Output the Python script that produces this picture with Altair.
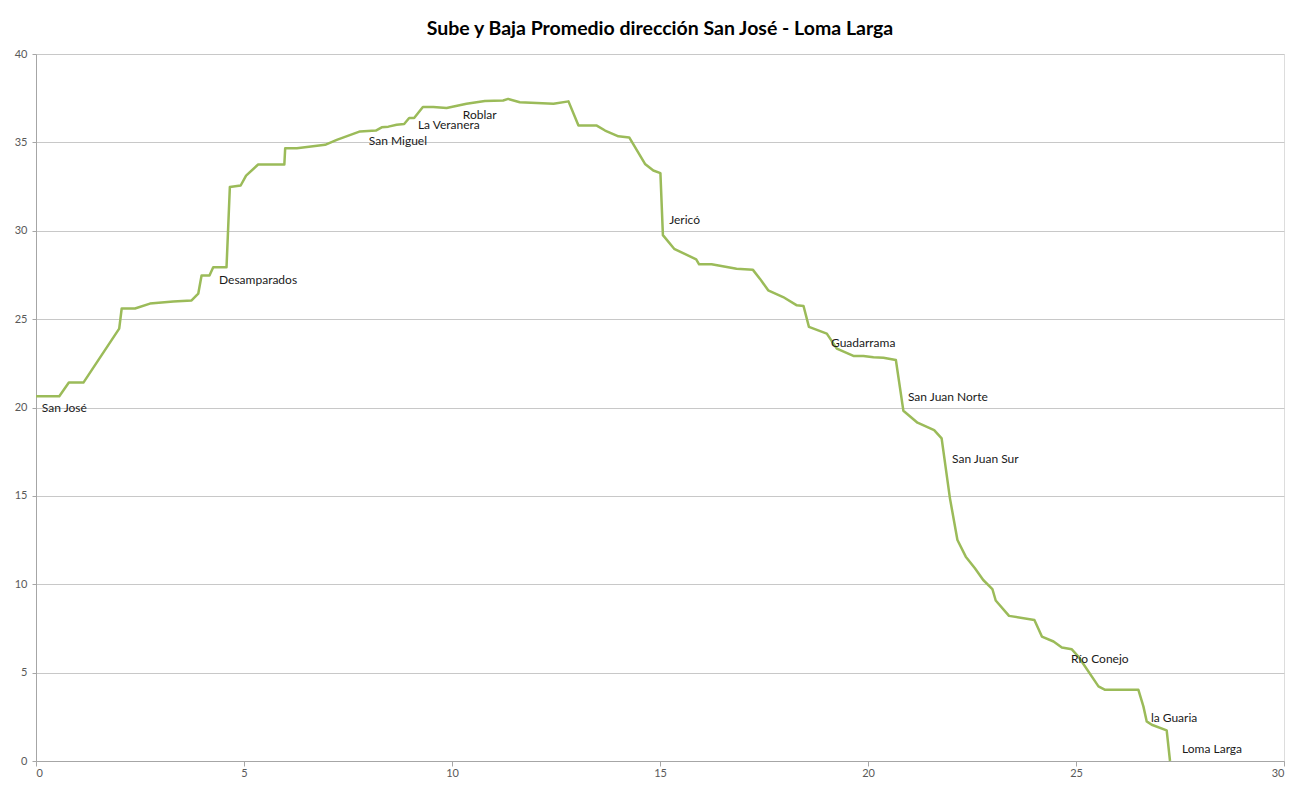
import altair as alt
import pandas as pd

# distance (km) and average elevation profile values
dist = [0.0, 0.56, 0.79, 1.14, 2.0, 2.06, 2.38, 2.74, 3.30, 3.74, 3.90, 3.98, 4.17, 4.26, 4.58,
        4.66, 4.92, 5.05, 5.34, 5.97, 5.99, 6.27, 6.95, 7.23, 7.79, 8.17, 8.31, 8.47, 8.67,
        8.85, 8.97, 9.09, 9.30, 9.55, 9.87, 10.35, 10.79, 11.23, 11.35, 11.63, 12.44, 12.80,
        13.04, 13.48, 13.68, 14.0, 14.26, 14.64, 14.84, 15.01, 15.07, 15.34, 15.87, 15.94,
        16.24, 16.84, 17.23, 17.40, 17.60, 17.96, 18.29, 18.45, 18.58, 19.01, 19.25, 19.65,
        19.89, 20.13, 20.37, 20.67, 20.85, 21.19, 21.59, 21.77, 21.97, 22.15, 22.35, 22.57,
        22.77, 22.99, 23.07, 23.39, 24.0, 24.18, 24.46, 24.66, 24.90, 25.06, 25.54, 25.70,
        26.5, 26.62, 26.70, 26.82, 27.18, 27.26]
value = [20.64, 20.64, 21.41, 21.41, 24.46, 25.6, 25.6, 25.88, 26.0, 26.06, 26.44, 27.47, 27.47,
         27.94, 27.94, 32.47, 32.56, 33.12, 33.75, 33.75, 34.67, 34.67, 34.86, 35.14, 35.62,
         35.67, 35.85, 35.89, 36.0, 36.04, 36.38, 36.38, 37.0, 37.0, 36.95, 37.18, 37.34,
         37.37, 37.46, 37.27, 37.18, 37.32, 35.95, 35.95, 35.67, 35.34, 35.28, 33.78, 33.41,
         33.26, 29.75, 28.98, 28.38, 28.1, 28.1, 27.85, 27.8, 27.29, 26.63, 26.25, 25.78,
         25.74, 24.56, 24.18, 23.33, 22.92, 22.92, 22.84, 22.82, 22.69, 19.82, 19.14, 18.72,
         18.25, 14.86, 12.5, 11.56, 10.9, 10.24, 9.73, 9.08, 8.21, 7.98, 7.04, 6.76, 6.42,
         6.32, 5.9, 4.22, 4.03, 4.03, 3.09, 2.24, 2.05, 1.73, 0.0]

stops = ["San José", "Desamparados", "San Miguel", "La Veranera", "Roblar", "Jericó",
         "Guadarrama", "San Juan Norte", "San Juan Sur", "Río Conejo", "la Guaria", "Loma Larga"]
stop_x = [0.14, 4.4, 8.0, 9.18, 10.26, 15.22, 19.11, 20.96, 22.02, 24.88, 26.8, 27.55]
stop_y = [20.0, 27.2, 35.1, 36.0, 36.55, 30.6, 23.67, 20.6, 17.06, 5.76, 2.43, 0.68]

line_df = pd.DataFrame({"d": dist, "v": value, "o": list(range(len(dist)))})
lab_df = pd.DataFrame({"name": stops, "x": stop_x, "y": stop_y})

xscale = alt.Scale(domain=[0, 30], nice=False, zero=False)
yscale = alt.Scale(domain=[0, 40], nice=False)

line = alt.Chart(line_df).mark_line(color="#9BBB59", strokeWidth=2.5, strokeJoin="round").encode(
    x=alt.X("d:Q", scale=xscale,
            axis=alt.Axis(title=None, values=[0, 5, 10, 15, 20, 25, 30], grid=False,
                          domainColor="#A6A6A6", tickColor="#A6A6A6", tickSize=5,
                          labelColor="#595959", labelFont="Lato", labelFontSize=11,
                          labelPadding=1)),
    y=alt.Y("v:Q", scale=yscale,
            axis=alt.Axis(title=None, values=[0, 5, 10, 15, 20, 25, 30, 35, 40],
                          gridColor="#C8C8C8", gridWidth=1,
                          domainColor="#A6A6A6", tickColor="#A6A6A6", tickSize=4,
                          labelColor="#595959", labelFont="Lato", labelFontSize=11,
                          labelPadding=5)),
    order="o:Q",
)

labels = alt.Chart(lab_df).mark_text(align="left", baseline="middle", font="Lato",
                                     fontSize=12, color="#1a1a1a").encode(
    x=alt.X("x:Q", scale=xscale),
    y=alt.Y("y:Q", scale=yscale),
    text="name:N",
)

chart = alt.layer(line, labels).properties(
    width=1248, height=707,
    title=alt.TitleParams("Sube y Baja Promedio dirección San José - Loma Larga",
                          font="Lato", fontSize=19.5, fontWeight="bold", color="#000000",
                          anchor="middle", offset=9),
    autosize=alt.AutoSizeParams(type="none"),
    padding={"left": 28, "top": 46, "right": 16, "bottom": 19},
).configure_view(stroke=None).configure(background="white")

chart.save("out.html", embed_options={"renderer": "svg", "actions": False})
